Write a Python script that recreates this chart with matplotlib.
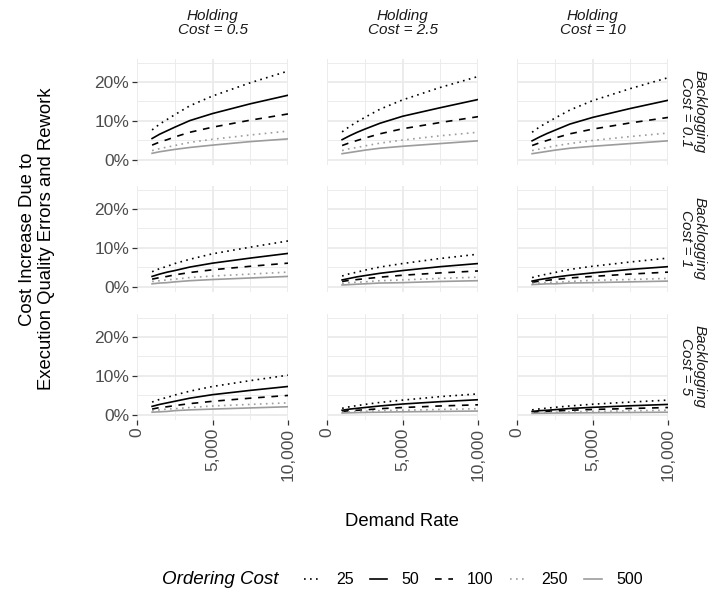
import matplotlib.pyplot as plt
from matplotlib.lines import Line2D
from matplotlib.ticker import FuncFormatter, FixedLocator

plt.rcParams['font.family'] = ['Liberation Sans', 'DejaVu Sans']

demand = [1000, 1500, 2000, 2500, 3500, 5000, 7500, 10000]
ordering_cost = [25, 50, 100, 250, 500]
holding_cost = ['0.5', '2.5', '10']
backlog_cost = ['0.1', '1', '5']

# cost increase (%) per ordering cost, along demand
inc_b01_h05 = [[7.7, 9.2, 10.4, 11.6, 13.9, 16.4, 19.8, 22.8],
               [5.5, 6.6, 7.5, 8.4, 10.1, 11.9, 14.4, 16.6],
               [3.8, 4.6, 5.2, 5.9, 7.1, 8.4, 10.2, 11.8],
               [2.4, 2.9, 3.3, 3.7, 4.5, 5.3, 6.4, 7.4],
               [1.7, 2.1, 2.4, 2.7, 3.2, 3.8, 4.7, 5.4]]
inc_b01_h25 = [[7.2, 8.6, 9.8, 10.9, 13.0, 15.4, 18.6, 21.4],
               [5.2, 6.2, 7.1, 7.9, 9.4, 11.2, 13.4, 15.5],
               [3.7, 4.4, 5.0, 5.6, 6.7, 8.0, 9.6, 11.1],
               [2.4, 2.9, 3.2, 3.6, 4.3, 5.1, 6.2, 7.1],
               [1.6, 1.9, 2.2, 2.5, 3.0, 3.5, 4.2, 4.9]]
inc_b01_h10 = [[7.1, 8.5, 9.6, 10.7, 12.8, 15.2, 18.3, 21.1],
               [4.9, 5.9, 6.8, 7.6, 9.2, 10.9, 13.2, 15.3],
               [3.7, 4.4, 5.0, 5.6, 6.7, 7.9, 9.5, 10.9],
               [2.4, 2.8, 3.2, 3.6, 4.2, 5.0, 6.0, 6.9],
               [1.6, 1.9, 2.2, 2.5, 3.0, 3.5, 4.2, 4.9]]
inc_b1_h05 = [[3.9, 4.7, 5.3, 6.0, 7.1, 8.5, 10.2, 11.8],
              [2.7, 3.3, 3.8, 4.2, 5.1, 6.1, 7.4, 8.6],
              [2.0, 2.4, 2.7, 3.1, 3.7, 4.4, 5.3, 6.1],
              [1.4, 1.6, 1.8, 2.0, 2.4, 2.8, 3.3, 3.8],
              [0.8, 1.0, 1.1, 1.3, 1.6, 1.9, 2.3, 2.7]]
inc_b1_h25 = [[2.8, 3.4, 3.8, 4.3, 5.1, 6.0, 7.3, 8.4],
              [1.8, 2.2, 2.6, 2.9, 3.5, 4.2, 5.2, 6.0],
              [1.4, 1.7, 1.9, 2.1, 2.5, 3.0, 3.6, 4.1],
              [0.9, 1.1, 1.2, 1.3, 1.6, 1.8, 2.2, 2.5],
              [0.5, 0.6, 0.7, 0.8, 1.0, 1.1, 1.4, 1.6]]
inc_b1_h10 = [[2.4, 2.9, 3.3, 3.7, 4.5, 5.3, 6.4, 7.4],
              [1.5, 1.9, 2.2, 2.5, 3.0, 3.6, 4.5, 5.2],
              [1.2, 1.5, 1.7, 1.9, 2.3, 2.7, 3.3, 3.8],
              [0.9, 1.0, 1.1, 1.2, 1.4, 1.7, 1.9, 2.2],
              [0.6, 0.7, 0.8, 0.8, 1.0, 1.1, 1.3, 1.5]]
inc_b5_h05 = [[3.3, 4.0, 4.5, 5.1, 6.1, 7.3, 8.8, 10.2],
              [2.2, 2.7, 3.1, 3.5, 4.3, 5.2, 6.3, 7.3],
              [1.5, 1.9, 2.1, 2.4, 2.9, 3.5, 4.3, 5.0],
              [1.1, 1.3, 1.5, 1.6, 1.9, 2.3, 2.7, 3.1],
              [0.7, 0.8, 0.9, 1.1, 1.3, 1.5, 1.8, 2.1]]
inc_b5_h25 = [[1.7, 2.1, 2.4, 2.7, 3.2, 3.8, 4.7, 5.4],
              [1.2, 1.5, 1.7, 1.9, 2.3, 2.8, 3.4, 3.9],
              [0.9, 1.1, 1.2, 1.3, 1.6, 1.9, 2.3, 2.6],
              [0.7, 0.8, 0.9, 0.9, 1.1, 1.2, 1.4, 1.6],
              [0.5, 0.55, 0.6, 0.65, 0.7, 0.8, 0.9, 1.0]]
inc_b5_h10 = [[1.3, 1.55, 1.75, 1.95, 2.3, 2.75, 3.3, 3.8],
              [0.9, 1.1, 1.2, 1.35, 1.65, 1.95, 2.35, 2.7],
              [0.7, 0.8, 0.9, 1.0, 1.2, 1.4, 1.65, 1.9],
              [0.5, 0.57, 0.63, 0.68, 0.8, 0.9, 1.06, 1.2],
              [0.4, 0.43, 0.45, 0.48, 0.52, 0.57, 0.63, 0.7]]

grid = [[inc_b01_h05, inc_b01_h25, inc_b01_h10],
        [inc_b1_h05, inc_b1_h25, inc_b1_h10],
        [inc_b5_h05, inc_b5_h25, inc_b5_h10]]

gray = '#9c9c9c'
styles = [('black', (0, (1, 2.6))), ('black', '-'), ('black', (0, (4, 4))),
          (gray, (0, (1, 2.6))), (gray, '-')]

W, H = 714, 599
fig = plt.figure(figsize=(W / 100, H / 100), dpi=100)

col_left = [137, 327, 517]
row_top = [59, 186, 314]
pw, ph = 151, 106

for r in range(3):
    for c in range(3):
        ax = fig.add_axes([col_left[c] / W, 1 - (row_top[r] + ph) / H, pw / W, ph / H])
        for vals, (col, ls) in zip(grid[r][c], styles):
            ax.plot(demand, vals, color=col, linestyle=ls, linewidth=1.2)
        ax.set_xlim(0, 10000)
        ax.set_ylim(-1.3, 25.9)
        ax.xaxis.set_major_locator(FixedLocator([0, 5000, 10000]))
        ax.xaxis.set_minor_locator(FixedLocator([2500, 7500]))
        ax.yaxis.set_major_locator(FixedLocator([0, 10, 20]))
        ax.yaxis.set_minor_locator(FixedLocator([5, 15, 25]))
        ax.grid(which='major', color='#ebebeb', linewidth=1.3)
        ax.grid(which='minor', color='#ebebeb', linewidth=0.65)
        ax.set_axisbelow(True)
        for s in ax.spines.values():
            s.set_visible(False)
        ax.tick_params(which='minor', length=0)
        ax.tick_params(which='major', length=3.5, width=0.9, color='#333333',
                       labelcolor='#4d4d4d', labelsize=12.5, pad=2)
        if c == 0:
            ax.yaxis.set_major_formatter(FuncFormatter(lambda v, p: f'{v:.0f}%'))
        else:
            ax.tick_params(axis='y', left=False, labelleft=False)
        if r == 2:
            ax.xaxis.set_major_formatter(FuncFormatter(lambda v, p: f'{v:,.0f}'))
            for lab in ax.get_xticklabels():
                lab.set_rotation(90)
                lab.set_va('top')
                lab.set_ha('center')
        else:
            ax.tick_params(axis='x', bottom=False, labelbottom=False)
        if r == 0:
            ax.text(0.5, 1 + 36 / ph, f'Holding\nCost = {holding_cost[c]}',
                    transform=ax.transAxes, ha='center', va='center',
                    fontsize=11, style='italic', color='#1a1a1a', linespacing=0.95)
        if c == 2:
            ax.text(1 + 25 / pw, 0.5, f'Backlogging\nCost = {backlog_cost[r]}',
                    transform=ax.transAxes, ha='center', va='center', rotation=-90,
                    fontsize=11, style='italic', color='#1a1a1a', linespacing=0.95)

fig.text(37 / W, 1 - 239 / H, 'Cost Increase Due to\nExecution Quality Errors and Rework',
         rotation=90, ha='center', va='center', fontsize=13.3, linespacing=1.08)
fig.text(402 / W, 1 - 522 / H, 'Demand Rate', ha='center', va='center', fontsize=13.3)

# legend along the bottom
fig.text(162 / W, 1 - 580 / H, 'Ordering Cost', ha='left', va='center',
         fontsize=13.5, style='italic')
handles = [Line2D([], [], color=col, linestyle=ls, linewidth=1.2) for col, ls in styles]
fig.legend(handles, [str(o) for o in ordering_cost], loc='center left',
           bbox_to_anchor=(304 / W, 1 - 580 / H), ncol=5, frameon=False,
           fontsize=11.5, handlelength=1.1, handletextpad=0.9, columnspacing=1.0,
           borderpad=0, borderaxespad=0)

fig.savefig('out.png', dpi=100)
